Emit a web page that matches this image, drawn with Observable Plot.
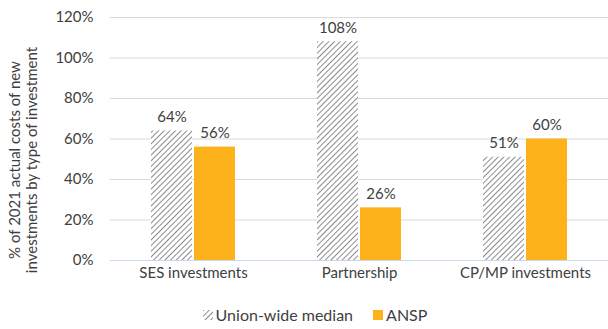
<!DOCTYPE html>
<html>
<head>
<meta charset="utf-8">
<script src="https://cdn.jsdelivr.net/npm/d3@7"></script>
<script src="https://cdn.jsdelivr.net/npm/@observablehq/plot@0.6"></script>
<style>
  html, body { margin: 0; padding: 0; background: #fff; }
  body { width: 608px; height: 329px; overflow: hidden; font-family: Lato, "Liberation Sans", sans-serif; }
  #legend { display: flex; justify-content: center; align-items: center; height: 29px; font-size: 16px; color: #404040; margin-left: 22px; }
  #legend .item { display: flex; align-items: center; margin: 0 10px; }
  #legend svg { margin-right: 3px; }
</style>
</head>
<body>
<svg width="0" height="0" style="position:absolute">
  <defs>
    <pattern id="hatch" patternUnits="userSpaceOnUse" width="4" height="4" patternTransform="rotate(45)">
      <rect width="4" height="4" fill="#ffffff"></rect>
      <line x1="0" y1="0" x2="0" y2="4" stroke="#6f6f6f" stroke-width="1.6"></line>
    </pattern>
  </defs>
</svg>
<div id="chart"></div>
<div id="legend"></div>
<script>
const categories = ["SES investments", "Partnership", "CP/MP investments"];
const seriesNames = ["Union-wide median", "ANSP"];
const unionMedian = [64, 108, 51];
const ansp = [56, 26, 60];
const yTicks = [0, 20, 40, 60, 80, 100, 120];
const seriesFills = ["url(#hatch)", "#FDB11A"];

const data = [];
categories.forEach((c, i) => {
  data.push({category: c, series: seriesNames[0], value: unionMedian[i]});
  data.push({category: c, series: seriesNames[1], value: ansp[i]});
});

const chart = Plot.plot({
  width: 608,
  height: 300,
  marginLeft: 110,
  marginRight: 0,
  marginTop: 17,
  marginBottom: 40,
  style: {fontFamily: "Lato, 'Liberation Sans', sans-serif", fontSize: "15px", color: "#404040", background: "#fff"},
  fx: {domain: categories, padding: 0, label: null, axis: "bottom", tickSize: 0, tickPadding: 7},
  x: {domain: seriesNames, paddingInner: 0.05, paddingOuter: 0.95, axis: null},
  y: {domain: [0, 120], ticks: yTicks, tickFormat: d => d + "%", label: null, tickSize: 0, tickPadding: 17},
  color: {domain: seriesNames, range: seriesFills},
  marks: [
    Plot.gridY(yTicks.filter(d => d > 0), {stroke: "#d9d9d9", strokeOpacity: 1, strokeWidth: 1}),
    Plot.barY(data, {fx: "category", x: "series", y: "value", fill: "series"}),
    Plot.ruleY([0], {stroke: "#c6d9f0", strokeWidth: 1}),
    Plot.text(data, {fx: "category", x: "series", y: "value", text: d => d.value + "%", lineAnchor: "bottom", dy: -9, fill: "#404040", fontSize: 15})
  ]
});
document.getElementById("chart").appendChild(chart);

// two-line rotated y-axis title
const svg = d3.select(chart);
const title = svg.append("text")
  .attr("transform", "translate(0,160) rotate(-90)")
  .attr("text-anchor", "middle")
  .attr("fill", "#404040")
  .style("font-size", "15px");
title.append("tspan").attr("x", 0).attr("dy", 20).text("% of 2021 actual costs of new");
title.append("tspan").attr("x", 0).attr("dy", 17).text("investments by type of investment");

// legend
const legend = document.getElementById("legend");
seriesNames.forEach((s, i) => {
  const item = document.createElement("div");
  item.className = "item";
  item.innerHTML = `<svg width="10" height="10"><rect width="10" height="10" fill="${seriesFills[i]}"></rect></svg><span>${s}</span>`;
  legend.appendChild(item);
});
</script>
</body>
</html>
